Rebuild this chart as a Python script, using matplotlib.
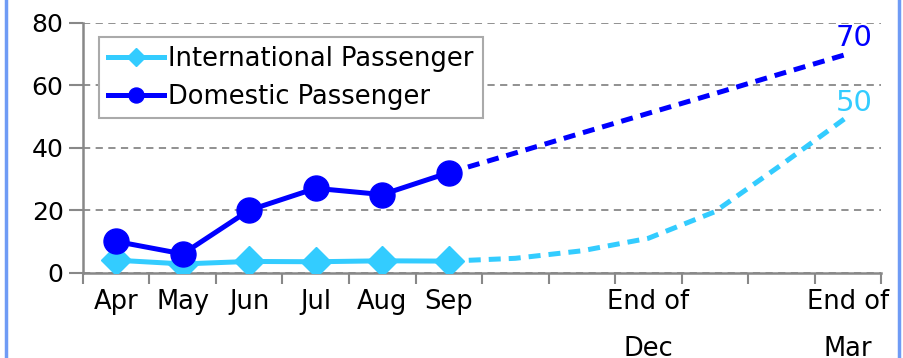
import numpy as np
import matplotlib
matplotlib.use("Agg")
from matplotlib import pyplot as plt

months = ["Apr", "May", "Jun", "Jul", "Aug", "Sep",
          "Oct", "Nov", "Dec", "Jan", "Feb", "Mar"]
tick_labels = ["Apr", "May", "Jun", "Jul", "Aug", "Sep",
               "", "", "End of\nDec", "", "", "End of\nMar"]

# actual values Apr-Sep
intl_actual = [4, 2.8, 3.6, 3.5, 3.8, 3.7]
dom_actual = [10, 6, 20, 27, 25, 32]

# forecast Sep-Mar (dashed)
intl_fc = [3.7, 4.6, 7, 11, 19.5, 34.5, 50]
dom_fc = [32, 38.3, 44.7, 51, 57.3, 63.7, 70]

c_intl = "#33ccff"
c_dom = "#0000ff"

fig = plt.figure(figsize=(9.04, 3.58), dpi=100)
ax = fig.add_axes([0.0918, 0.2383, 0.8828, 0.6983])

x = np.arange(len(months))
xa = x[:len(dom_actual)]
xf = x[len(dom_actual) - 1:]

# forecast dashed lines
ax.plot(xf, dom_fc, color=c_dom, lw=3.6, ls=(0, (2.4, 1.6)), zorder=3)
ax.plot(xf, intl_fc, color=c_intl, lw=3.6, ls=(0, (2.4, 1.6)), zorder=3)

ax.plot(xa, intl_actual, color=c_intl, lw=3.6, marker="D", ms=15,
        label="International Passenger", zorder=4)
ax.plot(xa, dom_actual, color=c_dom, lw=3.6, marker="o", ms=18,
        label="Domestic Passenger", zorder=5)

ax.text(11.1, dom_fc[-1] + 5, "70", color=c_dom, fontsize=21,
        ha="center", va="center")
ax.text(11.1, intl_fc[-1] + 4.3, "50", color=c_intl, fontsize=21,
        ha="center", va="center")

ax.set_xlim(-0.5, 11.5)
ax.set_ylim(0, 80)
ax.set_yticks([0, 20, 40, 60, 80])
ax.set_xticks(x)
ax.set_xticklabels(tick_labels, linespacing=2.05, va="top")
ax.set_xticks(np.arange(-0.5, 12, 1), minor=True)
ax.tick_params(axis="x", which="major", length=0, pad=12, labelsize=18.5)
ax.tick_params(axis="x", which="minor", length=8, color="#888888", width=1.5)
ax.tick_params(axis="y", length=10, color="#888888", width=1.5, labelsize=18, pad=4)

ax.yaxis.grid(True, ls=(0, (4, 3)), color="#888888", lw=1.3)
ax.set_axisbelow(True)
for s in ["top", "right"]:
    ax.spines[s].set_visible(False)
for s in ["left", "bottom"]:
    ax.spines[s].set_color("#888888")
    ax.spines[s].set_linewidth(1.8)

leg = ax.legend(loc="upper left", bbox_to_anchor=(0.02, 0.943), borderaxespad=0,
                fontsize=18.5, fancybox=False, framealpha=1, edgecolor="#aaaaaa",
                handlelength=2.2, handletextpad=0.15, borderpad=0.35,
                labelspacing=0.45, markerscale=0.6)
leg.get_frame().set_linewidth(1.5)

fig.text(0.184, 1.012, "(Unit: %)", fontsize=17, ha="center", va="baseline")

# outer frame of the original chart
fig.add_artist(plt.Line2D([0.007, 0.007], [0, 1], color="#6f9bf5", lw=2.5,
                          transform=fig.transFigure))
fig.add_artist(plt.Line2D([0.995, 0.995], [0, 1], color="#6f9bf5", lw=2.5,
                          transform=fig.transFigure))

plt.savefig("out.png", dpi=100)
